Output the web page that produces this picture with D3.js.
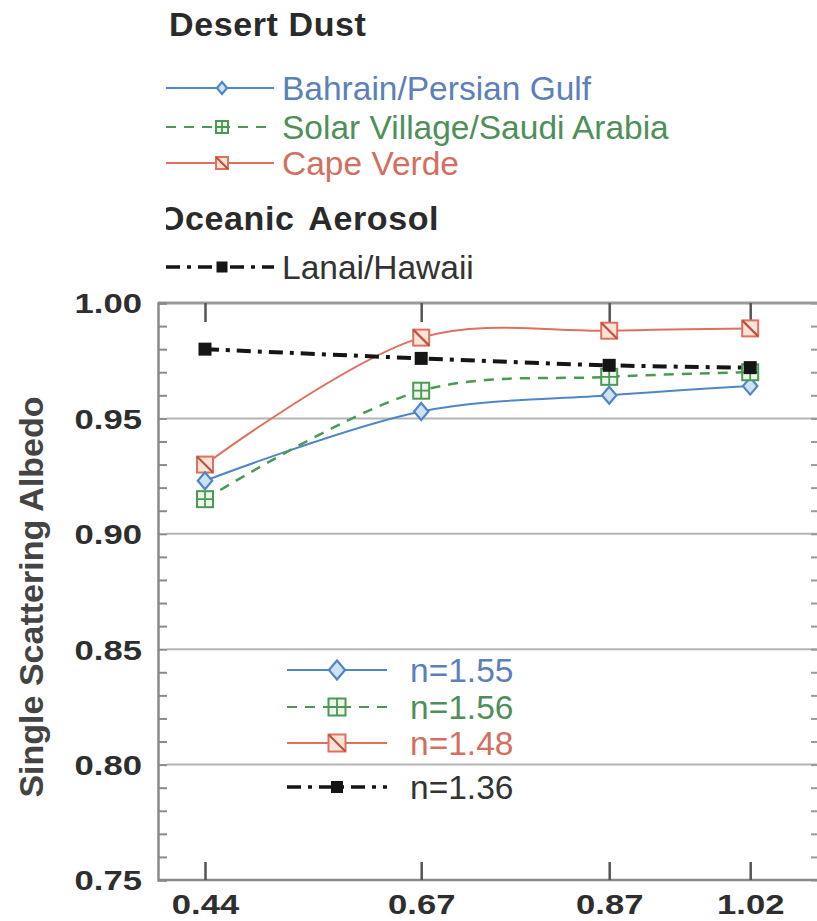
<!DOCTYPE html>
<html><head><meta charset="utf-8">
<script src="https://cdn.jsdelivr.net/npm/d3@7"></script>
<style>body{margin:0;background:#fff} svg{display:block}</style>
</head><body><svg id="c" width="817" height="921"></svg>
<script>
// ---- data ----
const wavelengths = [0.44, 0.67, 0.87, 1.02];
const xTickLabels = ["0.44", "0.67", "0.87", "1.02"];
const yTickValues = [0.75, 0.80, 0.85, 0.90, 0.95, 1.00];
const bahrain      = [0.923, 0.953, 0.960, 0.964];
const solarVillage = [0.915, 0.962, 0.968, 0.970];
const capeVerde    = [0.930, 0.985, 0.988, 0.989];
const lanai        = [0.980, 0.976, 0.973, 0.972];
const seriesNames = ["Bahrain/Persian Gulf", "Solar Village/Saudi Arabia", "Cape Verde", "Lanai/Hawaii"];
const refractiveLabels = ["n=1.55", "n=1.56", "n=1.48", "n=1.36"];
const groupTitles = ["Desert Dust", "Oceanic Aerosol"];
const yAxisTitle = "Single Scattering Albedo";

// ---- styles ----
const styles = [
  {line:"#4f86c6", text:"#5b80ba", dash:null, width:2, marker:"diamond", fill:"#cfe2f4"},
  {line:"#4a9a56", text:"#4f8f5b", dash:"10,8", width:2.5, marker:"grid", fill:"#eef7ea"},
  {line:"#e0705e", text:"#d36f60", dash:null, width:2, marker:"slash", fill:"#fde4d8"},
  {line:"#151515", text:"#333", dash:"14,7,4,7", width:4, marker:"filled", fill:"#151515"}
];
const seriesValues = [bahrain, solarVillage, capeVerde, lanai];

const svg = d3.select("#c");
const x = d3.scaleLinear().domain([0.39, 1.09]).range([158, 816]);
const y = d3.scaleLinear().domain([0.75, 1.0]).range([880, 303]);
const FONT = "'Liberation Sans', Arial, Helvetica, sans-serif";

// grid lines
svg.append("g").selectAll("line").data(yTickValues.filter(v => v > 0.75 && v < 1.0)).join("line")
  .attr("x1", 167).attr("x2", 817).attr("y1", d => y(d)).attr("y2", d => y(d))
  .attr("stroke", "#b4b4b4").attr("stroke-width", 2);
// top border
svg.append("line").attr("x1", 158).attr("x2", 817).attr("y1", y(1.0)).attr("y2", y(1.0))
  .attr("stroke", "#9a9a9a").attr("stroke-width", 3);

// left axis with minor ticks (inward)
const minor = d3.range(0, 26).map(i => 0.75 + i * 0.01);
const leftAx = svg.append("g").attr("transform", "translate(158,0)")
  .call(d3.axisRight(y).tickValues(minor).tickSize(9).tickFormat(""));
leftAx.select(".domain").attr("stroke", "#8a8a8a").attr("stroke-width", 2.5);
leftAx.selectAll(".tick line").attr("stroke", "#8a8a8a").attr("stroke-width", 2);

// right axis minor ticks
const rightAx = svg.append("g").attr("transform", "translate(817,0)")
  .call(d3.axisLeft(y).tickValues(minor).tickSize(6).tickFormat(""));
rightAx.select(".domain").remove();
rightAx.selectAll(".tick line").attr("stroke", "#9a9a9a").attr("stroke-width", 2);

// bottom axis line + ticks
const botAx = svg.append("g").attr("transform", "translate(0,880)")
  .call(d3.axisTop(x).tickValues(wavelengths).tickSize(18).tickFormat(""));
botAx.select(".domain").attr("stroke", "#8a8a8a").attr("stroke-width", 2.5).attr("d", "M158,0H817");
botAx.selectAll(".tick line").attr("stroke", "#555").attr("stroke-width", 2.5);
const topAx = svg.append("g").attr("transform", "translate(0,303)")
  .call(d3.axisBottom(x).tickValues(wavelengths).tickSize(19).tickFormat(""));
topAx.select(".domain").remove();
topAx.selectAll(".tick line").attr("stroke", "#555").attr("stroke-width", 2.5);

// tick labels
const yLab = svg.append("g").attr("transform", "translate(142,0)")
  .call(d3.axisLeft(y).tickValues(yTickValues).tickSize(0).tickFormat(d3.format(".2f")));
yLab.select(".domain").remove();
yLab.selectAll("text").attr("x", 0).attr("dy", "0.36em")
  .attr("transform", "scale(1.26,1)")
  .attr("font-family", FONT).attr("font-weight", "bold").attr("font-size", 27.5).attr("fill", "#2e2e2e");
const xLab = svg.append("g").attr("transform", "translate(0,880)")
  .call(d3.axisBottom(x).tickValues(wavelengths).tickSize(0).tickFormat((d, i) => xTickLabels[i]));
xLab.select(".domain").remove();
xLab.selectAll("text").attr("y", 14).attr("dy", "0.71em")
  .attr("transform", "scale(1.26,1)")
  .attr("font-family", FONT).attr("font-weight", "bold").attr("font-size", 27.5).attr("fill", "#2e2e2e");

// y title
svg.append("text").attr("transform", "translate(43,597) rotate(-90)")
  .attr("text-anchor", "middle").attr("font-family", FONT).attr("font-weight", "bold")
  .attr("font-size", 34).attr("fill", "#444").text(yAxisTitle);

// marker drawing
function marker(g, st, cx, cy, s) {
  const h = s / 2;
  if (st.marker === "diamond") {
    g.append("path").attr("d", `M${cx},${cy-h}L${cx+h*0.85},${cy}L${cx},${cy+h}L${cx-h*0.85},${cy}Z`)
      .attr("fill", st.fill).attr("stroke", st.line).attr("stroke-width", 2.2);
  } else if (st.marker === "grid") {
    g.append("rect").attr("x", cx-h).attr("y", cy-h).attr("width", s).attr("height", s)
      .attr("fill", st.fill).attr("stroke", st.line).attr("stroke-width", 2);
    g.append("path").attr("d", `M${cx},${cy-h}V${cy+h}M${cx-h},${cy}H${cx+h}`)
      .attr("stroke", st.line).attr("stroke-width", 1.8);
  } else if (st.marker === "slash") {
    g.append("rect").attr("x", cx-h).attr("y", cy-h).attr("width", s).attr("height", s)
      .attr("fill", st.fill).attr("stroke", st.line).attr("stroke-width", 2);
    g.append("path").attr("d", `M${cx-h},${cy-h}L${cx+h},${cy+h}`)
      .attr("stroke", "#c0503e").attr("stroke-width", 2.2);
  } else {
    g.append("rect").attr("x", cx-h).attr("y", cy-h).attr("width", s).attr("height", s)
      .attr("fill", st.fill);
  }
}

// series lines
const line = d3.line().x(d => x(d[0])).y(d => y(d[1])).curve(d3.curveCatmullRom.alpha(0.5));
const order = [2, 0, 1, 3];
order.forEach(i => {
  const st = styles[i];
  const pts = wavelengths.map((w, j) => [w, seriesValues[i][j]]);
  svg.append("path").datum(pts).attr("d", line).attr("fill", "none")
    .attr("stroke", st.line).attr("stroke-width", st.width)
    .attr("stroke-dasharray", st.dash);
});
order.forEach(i => {
  const st = styles[i];
  const g = svg.append("g");
  const s = st.marker === "filled" ? 13 : (st.marker === "diamond" ? 17 : 16);
  wavelengths.forEach((w, j) => marker(g, st, x(w), y(seriesValues[i][j]), s));
});

// top legend
const clip = svg.append("defs").append("clipPath").attr("id", "lc");
clip.append("rect").attr("x", 166).attr("y", 0).attr("width", 651).attr("height", 300);
const lg = svg.append("g").attr("clip-path", "url(#lc)");
lg.append("text").attr("x", 169).attr("y", 36).attr("font-family", FONT).attr("font-weight", "bold")
  .attr("font-size", 34).attr("letter-spacing", 0.6).attr("fill", "#2a2a2a").text(groupTitles[0]);
lg.append("text").attr("x", 158).attr("y", 230).attr("font-family", FONT).attr("font-weight", "bold")
  .attr("font-size", 34).attr("letter-spacing", 0.6).attr("word-spacing", 5).attr("fill", "#2a2a2a").text(groupTitles[1]);
const topRows = [88, 127, 163, 267];
seriesNames.forEach((name, i) => {
  const st = styles[i];
  const yy = topRows[i];
  lg.append("line").attr("x1", 166).attr("x2", 274).attr("y1", yy).attr("y2", yy)
    .attr("stroke", st.line).attr("stroke-width", i === 3 ? 3.5 : 2).attr("stroke-dasharray", st.dash);
  marker(lg, st, 222, yy, i === 3 ? 11 : 12);
  lg.append("text").attr("x", 282).attr("y", yy + 12).attr("font-family", FONT)
    .attr("font-size", 33.5).attr("fill", st.text).text(name);
});

// inner legend
const inRows = [670, 707, 743, 787];
refractiveLabels.forEach((lab, i) => {
  const st = styles[i];
  const yy = inRows[i];
  svg.append("line").attr("x1", 287).attr("x2", 387).attr("y1", yy).attr("y2", yy)
    .attr("stroke", st.line).attr("stroke-width", i === 3 ? 3.5 : 2).attr("stroke-dasharray", st.dash);
  marker(svg, st, 337, yy, i === 3 ? 12 : (i === 0 ? 19 : 17));
  svg.append("text").attr("x", 410).attr("y", yy + 12).attr("font-family", FONT)
    .attr("font-size", 33.5).attr("fill", st.text).text(lab);
});
</script></body></html>
